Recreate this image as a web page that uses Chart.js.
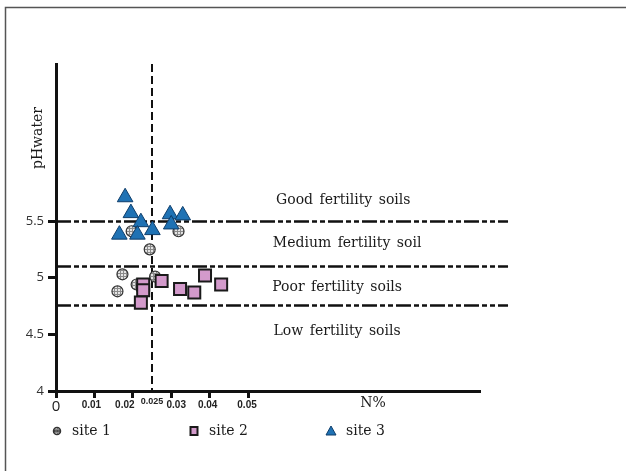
<!DOCTYPE html>
<html>
<head>
<meta charset="utf-8">
<script src="https://cdn.jsdelivr.net/npm/chart.js@4/dist/chart.umd.min.js"></script>
<style>
  html, body { margin: 0; padding: 0; background: #fff; }
  #wrap { width: 626px; height: 471px; position: relative; }
</style>
</head>
<body>
<div id="wrap"><canvas id="c" width="626" height="471"></canvas></div>
<script>
// Soil N% and pH(water) readings per site
const site1N  = [0.0197, 0.0319, 0.0244, 0.0173, 0.0160, 0.0210, 0.0258];
const site1PH = [5.41,   5.41,   5.25,   5.03,   4.88,   4.94,   5.01];
const site2N  = [0.0227, 0.0227, 0.0221, 0.0275, 0.0323, 0.0360, 0.0388, 0.0430];
const site2PH = [4.94,   4.89,   4.78,   4.97,   4.90,   4.87,   5.02,   4.94];
const site3N  = [0.0180, 0.0195, 0.0221, 0.0297, 0.0330, 0.0165, 0.0212, 0.0251, 0.0300];
const site3PH = [5.71,   5.57,   5.49,   5.56,   5.55,   5.38,   5.38,   5.42,   5.47];

const seriesNames = ['site 1', 'site 2', 'site 3'];

// Fertility class boundaries (pH) and the N% threshold
const phThresholds = [5.5, 5.1, 4.76];
const nThreshold = 0.025;
const zoneLabels = ['Good fertility soils', 'Medium fertility soil', 'Poor fertility soils', 'Low fertility soils'];
const zoneLabelPH = [5.686, 5.302, 4.918, 4.525];

// Axis ticks
const yTicks = [4, 4.5, 5, 5.5];
const xTickMarks = [0, 0.01, 0.02, 0.03, 0.04, 0.05];
const xTickLabels = ['0', '0.01', '0.02', '0.025', '0.03', '0.04', '0.05'];
const xTickLabelValues = [0, 0.01, 0.02, 0.025, 0.03, 0.04, 0.05];

const toPoints = (xs, ys) => xs.map((x, i) => ({ x: x, y: ys[i] }));

// cross-hatched grey fill for site 1 markers
function hatchPattern() {
  const p = document.createElement('canvas');
  p.width = 3; p.height = 3;
  const g = p.getContext('2d');
  g.fillStyle = '#e4e4e4';
  g.fillRect(0, 0, 3, 3);
  g.fillStyle = '#8a8a8a';
  g.fillRect(0, 0, 3, 1);
  g.fillRect(0, 0, 1, 3);
  return document.getElementById('c').getContext('2d').createPattern(p, 'repeat');
}
const hatch = hatchPattern();

const serif = '"DejaVu Serif", "Liberation Serif", serif';

const overlay = {
  id: 'overlay',
  beforeDatasetsDraw(chart) {
    const ctx = chart.ctx;
    const xs = chart.scales.x, ys = chart.scales.y;
    const area = chart.chartArea;
    ctx.save();
    // fertility class boundaries (dash-dot-dot)
    ctx.strokeStyle = '#111';
    ctx.lineWidth = 2.5;
    ctx.setLineDash([15, 3, 5, 3, 5, 3]);
    const x0 = xs.getPixelForValue(0);
    const x1 = xs.getPixelForValue(0.1177);
    phThresholds.forEach(v => {
      const y = Math.round(ys.getPixelForValue(v)) + 0.5;
      ctx.beginPath();
      ctx.moveTo(x0, y);
      ctx.lineTo(x1, y);
      ctx.stroke();
    });
    // N% threshold (dashed)
    ctx.lineWidth = 2;
    ctx.setLineDash([8, 4]);
    const vx = Math.round(xs.getPixelForValue(nThreshold));
    ctx.beginPath();
    ctx.moveTo(vx, area.top);
    ctx.lineTo(vx, area.bottom);
    ctx.stroke();
    ctx.restore();
  },
  afterDraw(chart) {
    const ctx = chart.ctx;
    const xs = chart.scales.x, ys = chart.scales.y;
    ctx.save();
    ctx.setLineDash([]);

    // zone labels
    ctx.fillStyle = '#1a1a1a';
    ctx.font = '14px ' + serif;
    ctx.textAlign = 'center';
    ctx.textBaseline = 'middle';
    if ('wordSpacing' in ctx) ctx.wordSpacing = '2px';
    const zoneX = [0.0748, 0.0758, 0.0732, 0.0732];
    zoneLabels.forEach((t, i) => {
      ctx.fillText(t, xs.getPixelForValue(zoneX[i]), ys.getPixelForValue(zoneLabelPH[i]));
    });
    if ('wordSpacing' in ctx) ctx.wordSpacing = '0px';

    // x tick labels
    xTickLabels.forEach((t, i) => {
      const px = xs.getPixelForValue(xTickLabelValues[i]);
      ctx.fillStyle = '#222';
      ctx.textAlign = 'center';
      if (t === '0') {
        ctx.font = '15px "Open Sans", sans-serif';
        ctx.fillText(t, px, 407);
      } else if (t === '0.025') {
        ctx.font = 'bold 9px "Liberation Sans", sans-serif';
        ctx.fillText(t, px, 402);
      } else {
        ctx.font = 'bold 10px "Liberation Sans", sans-serif';
        const shift = { '0.01': -3, '0.02': -8, '0.03': 5, '0.04': -2, '0.05': -1 }[t];
        ctx.fillText(t, px + shift, 405);
      }
    });

    // axis titles
    ctx.fillStyle = '#1a1a1a';
    ctx.font = '14px ' + serif;
    ctx.textAlign = 'center';
    ctx.fillText('N%', 373, 403);
    ctx.save();
    ctx.translate(38, 138);
    ctx.rotate(-Math.PI / 2);
    ctx.font = '14px ' + serif;
    ctx.fillText('pHwater', 0, 0);
    ctx.restore();

    // legend
    const ly = 431;
    const legendX = [57, 194, 331];
    chart.data.datasets.forEach((ds, i) => {
      const mx = legendX[i];
      ctx.lineWidth = 1.5;
      ctx.strokeStyle = ds.borderColor;
      ctx.fillStyle = ds.backgroundColor;
      ctx.beginPath();
      if (ds.pointStyle === 'circle') {
        ctx.arc(mx, ly, 3.5, 0, Math.PI * 2);
        ctx.fill(); ctx.stroke();
        ctx.beginPath();
        ctx.moveTo(mx - 3, ly); ctx.lineTo(mx + 3, ly); ctx.stroke();
      } else if (ds.pointStyle === 'rect') {
        ctx.lineWidth = 2;
        ctx.rect(mx - 3.5, ly - 4, 7, 8);
        ctx.fill(); ctx.stroke();
      } else {
        ctx.lineWidth = 1;
        ctx.moveTo(mx, ly - 5);
        ctx.lineTo(mx + 5, ly + 4);
        ctx.lineTo(mx - 5, ly + 4);
        ctx.closePath();
        ctx.fill(); ctx.stroke();
      }
      ctx.fillStyle = '#1a1a1a';
      ctx.font = '14px ' + serif;
      ctx.textAlign = 'left';
      ctx.textBaseline = 'middle';
      ctx.fillText(ds.label, mx + 15, ly);
    });

    // outer frame
    ctx.strokeStyle = '#555';
    ctx.lineWidth = 1.5;
    ctx.strokeRect(5.5, 7.5, 660, 520);
    ctx.restore();
  }
};

new Chart(document.getElementById('c'), {
  type: 'scatter',
  data: {
    datasets: [
      {
        label: seriesNames[0],
        data: toPoints(site1N, site1PH),
        pointStyle: 'circle',
        pointRadius: 5.5,
        pointHoverRadius: 5.5,
        backgroundColor: hatch,
        borderColor: '#333',
        borderWidth: 1.2,
        order: 3
      },
      {
        label: seriesNames[1],
        data: toPoints(site2N, site2PH),
        pointStyle: 'rect',
        pointRadius: 8.5,
        pointHoverRadius: 8.5,
        backgroundColor: '#d39acb',
        borderColor: '#1a1a1a',
        borderWidth: 2,
        order: 2
      },
      {
        label: seriesNames[2],
        data: toPoints(site3N, site3PH),
        pointStyle: 'triangle',
        pointRadius: 9,
        pointHoverRadius: 9,
        backgroundColor: '#1f72b4',
        borderColor: '#0e3d6a',
        borderWidth: 1,
        order: 1
      }
    ]
  },
  options: {
    responsive: false,
    animation: false,
    events: [],
    layout: { padding: { left: 0, top: 64, right: 146, bottom: 70 } },
    plugins: { legend: { display: false }, tooltip: { enabled: false } },
    scales: {
      x: {
        type: 'linear',
        min: 0,
        max: 0.1104,
        afterBuildTicks: s => { s.ticks = xTickMarks.map(v => ({ value: v })); },
        afterFit: s => { s.height = 10; },
        ticks: { display: false },
        grid: { drawOnChartArea: false, drawTicks: true, tickLength: 7, tickWidth: 3, tickColor: '#111' },
        border: { display: true, color: '#111', width: 3 }
      },
      y: {
        type: 'linear',
        min: 4,
        max: 6.886,
        afterBuildTicks: s => { s.ticks = yTicks.map(v => ({ value: v })); },
        afterFit: s => { s.width = 56; },
        ticks: {
          color: '#333',
          font: { family: '"Open Sans", sans-serif', size: 13 },
          padding: 4,
          callback: v => String(v)
        },
        grid: { drawOnChartArea: false, drawTicks: true, tickLength: 8, tickWidth: 3, tickColor: '#111' },
        border: { display: true, color: '#111', width: 3 }
      }
    }
  },
  plugins: [overlay]
});
</script>
</body>
</html>
